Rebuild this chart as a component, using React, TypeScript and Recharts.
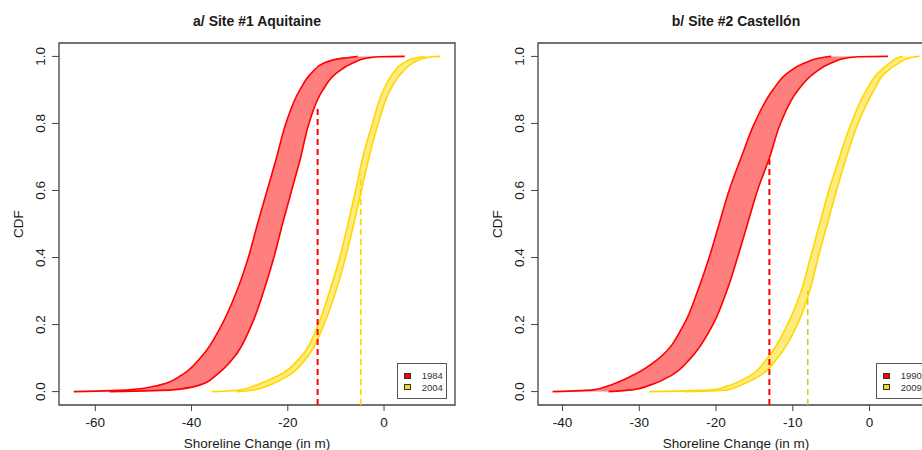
import React from "react";
import {
  ComposedChart,
  Area,
  XAxis,
  YAxis,
  ReferenceArea,
  ReferenceLine,
  Legend,
} from "recharts";

// CDF levels shared by every band edge
const probLevels = [0, 0.005, 0.02, 0.05, 0.1, 0.2, 0.3, 0.4, 0.5, 0.6, 0.7, 0.8, 0.9, 0.95, 0.98, 0.995, 0.999, 1];

// a/ Site #1 Aquitaine : shoreline change (m) of the two band edges at each level
const aqui1984Low = [-64.5, -53, -46.5, -42, -38.2, -33.7, -30.6, -28.2, -26.3, -24.3, -22.3, -20.4, -17.5, -15.1, -12.5, -8.5, -6, -5.5];
const aqui1984High = [-57, -44, -38.2, -34.8, -31.3, -27.5, -25, -22.9, -21.1, -19.2, -17.3, -15.6, -12.7, -9.9, -6.5, -3.5, -1, 4.3];
const aqui2004Low = [-35.8, -30, -26.5, -21.6, -17.5, -13.7, -11.3, -9.2, -7.5, -5.9, -4.4, -2.4, -0.1, 1.9, 4, 6.5, 8, 8.5];
const aqui2004High = [-30.6, -27, -23.7, -19.6, -16.1, -12.5, -10, -8, -6.3, -4.7, -3.1, -1.2, 1.3, 3.6, 6, 8.5, 10, 11.7];
const aquiDashX = [-13.8, -4.83];
const aquiDashTop = [0.85, 0.65];
const aquiXTicks = [-60, -40, -20, 0];
const aquiXDomain = [-67.55, 14.75];

// b/ Site #2 Castellón
const cast1990Low = [-41.3, -36, -33.7, -30.7, -27.4, -24.2, -22.4, -20.9, -19.6, -18.3, -16.7, -15, -12.6, -10.7, -8.5, -6.5, -5.5, -5];
const cast1990High = [-34, -31, -28.5, -25.7, -23.3, -20.4, -18.6, -17.2, -15.9, -14.6, -13, -11.6, -9.3, -7.2, -5, -3, -1.5, 2.4];
const cast2009Low = [-28.7, -20.5, -18.1, -15.4, -13.3, -10.7, -8.9, -7.7, -6.5, -5.3, -3.9, -2.4, -0.4, 1.1, 2.6, 3.6, 4, 4.3];
const cast2009High = [-24, -18.5, -16.7, -14.1, -12, -9.4, -7.8, -6.7, -5.5, -4.3, -3, -1.5, 0.6, 2, 3.8, 5.2, 6, 6.5];
const castDashX = [-13.05, -8.05];
const castDashTop = [0.7, 0.3];
const castXTicks = [-40, -30, -20, -10, 0];
const castXDomain = [-43.2, 8.4];

const yTicks = [0, 0.2, 0.4, 0.6, 0.8, 1];
const yDomain = [-0.04, 1.04];

const FONT = '"Liberation Sans", Arial, Helvetica, sans-serif';
const INK = "#1a1a1a";
const FRAME = "#444";

function toBand(low: number[], high: number[]) {
  return probLevels.map((p, i) => ({ p, range: [low[i], high[i]] }));
}

interface BandDef {
  name: string;
  stroke: string;
  data: { p: number; range: number[] }[];
}

interface DashDef {
  x: number;
  top: number;
  stroke: string;
  width: number;
  dash: string;
}

function YTick({ x, y, payload }: any) {
  return (
    <text
      x={x}
      y={y}
      transform={`rotate(-90 ${x} ${y})`}
      textAnchor="middle"
      fontSize={13.5}
      fontFamily={FONT}
      fill={INK}
    >
      {Number(payload.value).toFixed(1)}
    </text>
  );
}

function YTitle({ viewBox }: any) {
  const x = viewBox.x + 23;
  const y = viewBox.y + viewBox.height / 2;
  return (
    <text x={x} y={y} transform={`rotate(-90 ${x} ${y})`} textAnchor="middle" fontSize={13.5} fontFamily={FONT} fill={INK}>
      CDF
    </text>
  );
}

function LegendBox({ payload }: any) {
  return (
    <div
      style={{
        border: "1px solid #555",
        background: "#fff",
        width: 50,
        height: 36,
        boxSizing: "border-box",
        padding: "6px 0 0 6px",
        fontFamily: FONT,
        fontSize: 9.5,
        color: "#333",
      }}
    >
      {(payload || []).map((e: any) => (
        <div key={e.value} style={{ display: "flex", alignItems: "center", height: 11.6 }}>
          <span
            style={{
              display: "inline-block",
              width: 7,
              height: 6,
              background: e.color,
              border: "1px solid #333",
              boxSizing: "border-box",
            }}
          />
          <span style={{ marginLeft: 10.7, lineHeight: "11.6px" }}>{e.value}</span>
        </div>
      ))}
    </div>
  );
}

function Panel({
  title,
  left,
  xDomain,
  xTicks,
  bands,
  dashes,
}: {
  title: string;
  left: number;
  xDomain: number[];
  xTicks: number[];
  bands: BandDef[];
  dashes: DashDef[];
}) {
  return (
    <div style={{ position: "absolute", left, top: 0, width: 479, height: 450, fontFamily: FONT }}>
      <div
        style={{
          position: "absolute",
          top: 12.5,
          left: 59,
          width: 396,
          textAlign: "center",
          fontWeight: "bold",
          fontSize: 14,
          lineHeight: "16px",
          color: INK,
        }}
      >
        {title}
      </div>
      <ComposedChart
        layout="vertical"
        width={479}
        height={450}
        margin={{ top: 43, right: 24, bottom: 0, left: 0 }}
      >
        <XAxis
          type="number"
          domain={xDomain}
          ticks={xTicks}
          interval={0}
          allowDataOverflow
          height={45}
          axisLine={false}
          tickSize={6}
          tickMargin={6.5}
          tickLine={{ stroke: FRAME }}
          tick={{ fontSize: 13.5, fill: INK, fontFamily: FONT }}
          label={{
            value: "Shoreline Change (in m)",
            position: "insideBottom",
            offset: 2,
            fontSize: 13.5,
            fill: INK,
            fontFamily: FONT,
          }}
        />
        <YAxis
          type="number"
          dataKey="p"
          domain={yDomain}
          ticks={yTicks}
          interval={0}
          reversed
          allowDataOverflow
          width={59}
          axisLine={false}
          tickSize={7}
          tickMargin={7}
          tickLine={{ stroke: FRAME }}
          tick={<YTick />}
          label={<YTitle />}
        />
        {bands.map((b) => (
          <Area
            key={b.name}
            name={b.name}
            data={b.data}
            dataKey="range"
            type="monotone"
            stroke={b.stroke}
            strokeWidth={1.6}
            fill={b.stroke}
            fillOpacity={0.5}
            dot={false}
            activeDot={false}
            legendType="square"
            isAnimationActive={false}
          />
        ))}
        {dashes.map((d, i) => (
          <ReferenceLine
            key={i}
            segment={[
              { x: d.x, y: yDomain[0] },
              { x: d.x, y: d.top },
            ]}
            stroke={d.stroke}
            strokeWidth={d.width}
            strokeDasharray={d.dash}
            ifOverflow="visible"
          />
        ))}
        <ReferenceArea
          x1={xDomain[0]}
          x2={xDomain[1]}
          y1={yDomain[0]}
          y2={yDomain[1]}
          fill="none"
          fillOpacity={0}
          stroke={FRAME}
          strokeWidth={1.3}
          ifOverflow="visible"
        />
        <Legend
          layout="horizontal"
          align="center"
          verticalAlign="middle"
          content={<LegendBox />}
          wrapperStyle={{ left: 397, top: 363, width: 50, height: 36 }}
        />
      </ComposedChart>
    </div>
  );
}

export default function App() {
  const red = "#ff0000";
  const gold = "#ffd700";
  return (
    <div
      style={{
        position: "absolute",
        left: 0,
        top: 0,
        width: 922,
        height: 450,
        overflow: "hidden",
        background: "#fff",
      }}
    >
      <Panel
        title="a/ Site #1 Aquitaine"
        left={0}
        xDomain={aquiXDomain}
        xTicks={aquiXTicks}
        bands={[
          { name: "1984", stroke: red, data: toBand(aqui1984Low, aqui1984High) },
          { name: "2004", stroke: gold, data: toBand(aqui2004Low, aqui2004High) },
        ]}
        dashes={[
          { x: aquiDashX[0], top: aquiDashTop[0], stroke: red, width: 2, dash: "6 4" },
          { x: aquiDashX[1], top: aquiDashTop[1], stroke: gold, width: 1.8, dash: "6 4" },
        ]}
      />
      <Panel
        title="b/ Site #2 Castellón"
        left={479}
        xDomain={castXDomain}
        xTicks={castXTicks}
        bands={[
          { name: "1990", stroke: red, data: toBand(cast1990Low, cast1990High) },
          { name: "2009", stroke: gold, data: toBand(cast2009Low, cast2009High) },
        ]}
        dashes={[
          { x: castDashX[0], top: castDashTop[0], stroke: red, width: 2, dash: "6 4" },
          { x: castDashX[1], top: castDashTop[1], stroke: "#c8d02c", width: 1.6, dash: "6 4" },
        ]}
      />
    </div>
  );
}
